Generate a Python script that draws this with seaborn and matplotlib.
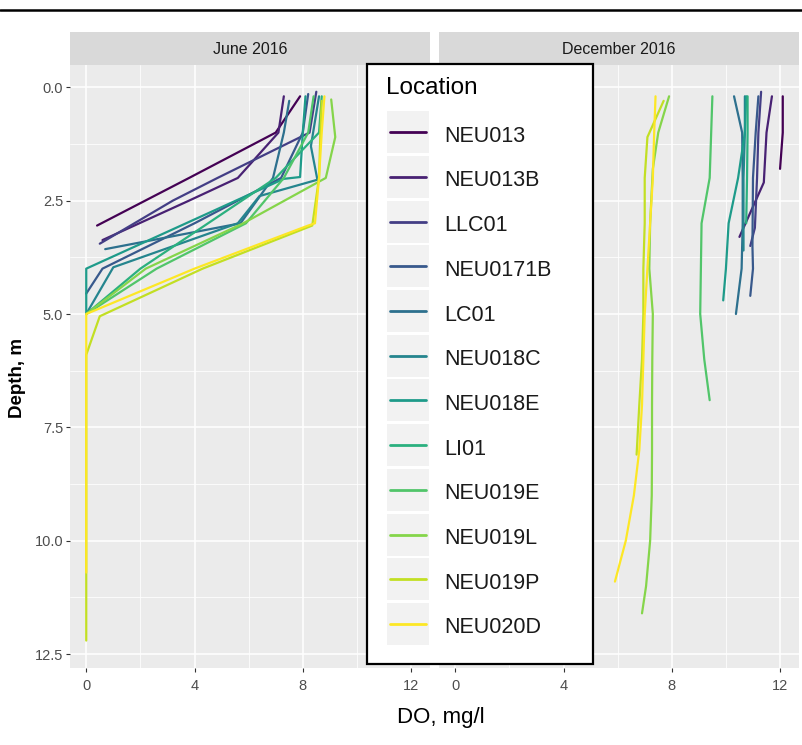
import matplotlib
matplotlib.use("Agg")
import matplotlib.pyplot as plt
import numpy as np
import pandas as pd
import seaborn as sns
from matplotlib import font_manager
from matplotlib.patches import Rectangle
from matplotlib.lines import Line2D
from matplotlib.legend_handler import HandlerBase
from matplotlib.ticker import MultipleLocator

# ---------------- data ----------------
locations = ["NEU013", "NEU013B", "LLC01", "NEU0171B", "LC01", "NEU018C",
             "NEU018E", "LI01", "NEU019E", "NEU019L", "NEU019P", "NEU020D"]
colors = ["#440154", "#482173", "#433E85", "#38598C", "#2D708E", "#25858E",
          "#1E9B8A", "#2BB07F", "#51C56A", "#85D54A", "#C2DF23", "#FDE725"]
months = ["June 2016", "December 2016"]

# June 2016 profiles (depth m, DO mg/l)
NEU013_jun_depth = [0.2, 1.0, 2.0, 3.05]
NEU013_jun_do = [7.9, 7.0, 3.8, 0.4]
NEU013B_jun_depth = [0.2, 1.0, 2.0, 2.5, 3.37]
NEU013B_jun_do = [7.3, 7.1, 5.6, 3.8, 0.6]
LLC01_jun_depth = [0.1, 1.0, 2.0, 2.5, 3.45]
LLC01_jun_do = [8.5, 8.25, 4.85, 3.2, 0.5]
NEU0171B_jun_depth = [0.15, 1.0, 2.0, 3.0, 4.0, 4.55]
NEU0171B_jun_do = [8.2, 8.0, 7.2, 4.0, 0.6, 0.0]
LC01_jun_depth = [0.3, 1.0, 2.0, 3.0, 3.57]
LC01_jun_do = [7.5, 7.3, 6.9, 5.7, 0.7]
NEU018C_jun_depth = [0.2, 1.3, 2.04, 2.4, 3.0, 3.97, 5.0]
NEU018C_jun_do = [8.6, 8.3, 8.54, 6.4, 5.6, 1.0, 0.0]
NEU018E_jun_depth = [0.2, 1.0, 1.98, 2.02, 4.0, 5.0]
NEU018E_jun_do = [8.1, 8.0, 7.9, 7.3, 0.0, 0.0]
LI01_jun_depth = [0.2, 1.0, 2.0, 3.0, 4.0, 5.0]
LI01_jun_do = [8.7, 8.6, 7.0, 4.5, 2.0, 0.0]
NEU019E_jun_depth = [0.2, 1.0, 2.0, 3.0, 4.0, 5.0]
NEU019E_jun_do = [8.4, 8.2, 7.3, 5.9, 2.6, 0.0]
NEU019L_jun_depth = [0.27, 1.1, 2.0, 3.0, 4.0, 5.0]
NEU019L_jun_do = [9.05, 9.2, 8.85, 5.8, 2.2, 0.0]
NEU019P_jun_depth = [0.3, 1.0, 2.0, 3.05, 4.0, 5.05, 5.9, 8.0, 10.0, 12.2]
NEU019P_jun_do = [8.7, 8.65, 8.6, 8.35, 4.3, 0.5, 0.0, 0.0, 0.0, 0.0]
NEU020D_jun_depth = [0.2, 1.0, 2.0, 3.0, 3.05, 4.0, 5.0, 6.0, 8.0, 10.7]
NEU020D_jun_do = [8.8, 8.7, 8.6, 8.45, 8.2, 4.0, 0.0, 0.0, 0.0, 0.0]

# December 2016 profiles
NEU013_dec_depth = [0.2, 1.0, 1.8]
NEU013_dec_do = [12.1, 12.1, 12.0]
NEU013B_dec_depth = [0.2, 1.0, 2.1, 3.3]
NEU013B_dec_do = [11.7, 11.5, 11.4, 10.5]
LLC01_dec_depth = [0.1, 1.0, 2.0, 3.1, 3.5]
LLC01_dec_do = [11.3, 11.2, 11.15, 11.07, 10.9]
NEU0171B_dec_depth = [0.2, 1.0, 2.0, 3.5, 4.0, 4.6]
NEU0171B_dec_do = [11.2, 11.1, 11.0, 10.98, 11.0, 10.9]
LC01_dec_depth = [0.2, 1.0, 2.0, 3.0, 4.0, 5.0]
LC01_dec_do = [10.3, 10.6, 10.62, 10.62, 10.58, 10.37]
NEU018C_dec_depth = [0.2, 1.0, 2.0, 3.0, 3.6]
NEU018C_dec_do = [10.7, 10.7, 10.65, 10.65, 10.65]
NEU018E_dec_depth = [0.2, 1.0, 2.0, 3.0, 4.0, 4.7]
NEU018E_dec_do = [10.75, 10.7, 10.45, 10.1, 10.0, 9.9]
LI01_dec_depth = [0.2, 1.0, 2.0, 3.0]
LI01_dec_do = [10.8, 10.8, 10.78, 10.75]
NEU019E_dec_depth = [0.2, 2.0, 3.0, 5.0, 6.0, 6.9]
NEU019E_dec_do = [9.5, 9.4, 9.1, 9.05, 9.2, 9.4]
NEU019L_dec_depth = [0.2, 1.0, 1.8, 3.0, 4.0, 5.0, 6.0, 7.0, 8.0, 9.0, 10.0, 11.0, 11.6]
NEU019L_dec_do = [7.9, 7.5, 7.3, 7.2, 7.17, 7.3, 7.28, 7.27, 7.27, 7.26, 7.2, 7.05, 6.9]
NEU019P_dec_depth = [0.3, 1.1, 2.0, 3.0, 4.0, 5.0, 6.0, 7.0, 8.1]
NEU019P_dec_do = [7.7, 7.1, 7.0, 7.0, 6.95, 6.95, 6.9, 6.8, 6.7]
NEU020D_dec_depth = [0.2, 1.0, 2.0, 3.0, 4.0, 5.0, 6.0, 7.0, 8.0, 9.0, 10.0, 10.9]
NEU020D_dec_do = [7.4, 7.35, 7.3, 7.2, 7.1, 7.0, 6.95, 6.9, 6.8, 6.6, 6.3, 5.9]

x_ticks = [0, 4, 8, 12]
y_ticks = [0.0, 2.5, 5.0, 7.5, 10.0, 12.5]

# ---------------- build long table ----------------
rows = []
g = globals()
for m, tag in zip(months, ["jun", "dec"]):
    for loc in locations:
        d = g[f"{loc}_{tag}_depth"]
        v = g[f"{loc}_{tag}_do"]
        for dd, vv in zip(d, v):
            rows.append({"Month": m, "Location": loc, "Depth": dd, "DO": vv})
df = pd.DataFrame(rows)

# ---------------- fonts ----------------
avail = {f.name for f in font_manager.fontManager.ttflist}
narrow = "Liberation Sans Narrow" if "Liberation Sans Narrow" in avail else "Liberation Sans"
regular = "Liberation Sans"

sns.set_theme(style="darkgrid")
plt.rcParams["font.family"] = [regular, "DejaVu Sans"]

W, H = 802, 745
fig = plt.figure(figsize=(W / 100, H / 100), dpi=100)
fig.patch.set_facecolor("white")

def fx(px):
    return px / W

def fy(py):
    return 1 - py / H

panel_top, panel_bot = 65, 668
panels = [(70, 430), (439, 799)]
palette = dict(zip(locations, colors))

for i, (m, (x0, x1)) in enumerate(zip(months, panels)):
    ax = fig.add_axes([fx(x0), fy(panel_bot), (x1 - x0) / W, (panel_bot - panel_top) / H])
    ax.set_facecolor("#EBEBEB")
    sub = df[df["Month"] == m]
    sns.lineplot(data=sub, x="DO", y="Depth", hue="Location", hue_order=locations,
                 palette=palette, sort=False, estimator=None, lw=1.6,
                 legend=False, ax=ax)
    ax.set_xlim(-0.6, 12.7)
    ax.set_ylim(12.805, -0.49)
    ax.set_xticks(x_ticks)
    ax.set_yticks(y_ticks)
    ax.xaxis.set_minor_locator(MultipleLocator(2))
    ax.yaxis.set_minor_locator(MultipleLocator(1.25))
    ax.grid(which="major", color="white", lw=1.1)
    ax.grid(which="minor", color="white", lw=0.55)
    ax.set_axisbelow(True)
    for s in ax.spines.values():
        s.set_visible(False)
    ax.tick_params(which="major", direction="out", length=3.0, width=0.8,
                   color="#333333", labelcolor="#4D4D4D", labelsize=10.5,
                   bottom=True, left=(i == 0))
    ax.tick_params(axis="x", pad=5)
    ax.tick_params(axis="y", pad=2)
    ax.tick_params(which="minor", length=0)
    ax.set_xticklabels([str(t) for t in x_ticks], fontfamily=narrow)
    if i == 0:
        ax.set_yticklabels([f"{t:.1f}" for t in y_ticks], fontfamily=narrow)
    else:
        ax.set_yticklabels([])
    ax.set_xlabel("")
    ax.set_ylabel("")

    # strip
    sax = fig.add_axes([fx(x0), fy(panel_top), (x1 - x0) / W, 33 / H])
    sax.set_facecolor("#D9D9D9")
    sax.set_xticks([])
    sax.set_yticks([])
    for s in sax.spines.values():
        s.set_visible(False)
    sax.text(0.5, 0.48, m, ha="center", va="center", fontsize=11.5,
             color="#1A1A1A", fontfamily=narrow, transform=sax.transAxes)

# axis titles
fig.text(fx(441), fy(718), "DO, mg/l", ha="center", va="center", fontsize=16,
         color="black", fontfamily=regular)
fig.text(fx(18), fy(378), "Depth, m", ha="center", va="center", rotation=90,
         fontsize=13.5, fontweight="bold", color="black", fontfamily=regular)

# top rule
fig.add_artist(Line2D([0, 1], [fy(9.5), fy(9.5)], transform=fig.transFigure,
                      color="black", lw=1.8))

# legend frame
fig.add_artist(Rectangle((fx(367), fy(664)), (593 - 367) / W, (664 - 64) / H,
                         transform=fig.transFigure, facecolor="white",
                         edgecolor="black", lw=1.6, zorder=3))
fig.text(fx(386), fy(93.5), "Location", ha="left", va="baseline",
         fontsize=17.5, color="black", fontfamily=regular, zorder=6)

KEY_SHIFT = 2.2  # points: raise the key square slightly relative to label baseline


class KeyHandler(HandlerBase):
    def create_artists(self, legend, orig_handle, xdescent, ydescent, width,
                       height, fontsize, trans):
        r = Rectangle((-xdescent, -ydescent + KEY_SHIFT), width, height,
                      facecolor="#F2F2F2", edgecolor="none", transform=trans)
        y = -ydescent + KEY_SHIFT + height / 2
        ln = Line2D([-xdescent + width * 0.07, -xdescent + width * 0.93], [y, y],
                    color=orig_handle.get_color(), lw=2.0, transform=trans)
        return [r, ln]


handles = [Line2D([], [], color=c) for c in colors]
fs = 15.5
key_pt = 42 * 0.72          # key height in points
hh = (key_pt / fs - 0.245) / 0.65
leg = fig.legend(handles, locations, loc="upper left",
                 bbox_to_anchor=(fx(386.7), fy(112.3 + 2)), bbox_transform=fig.transFigure,
                 frameon=False, borderpad=0, borderaxespad=0,
                 handlelength=42.7 * 0.72 / fs, handleheight=hh,
                 labelspacing=2.7 * 0.72 / fs, handletextpad=0.7,
                 prop={"family": regular, "size": fs},
                 handler_map={Line2D: KeyHandler()})
leg.set_zorder(6)
for t in leg.get_texts():
    t.set_color("#1A1A1A")

fig.savefig("out.png", dpi=100, facecolor="white")
